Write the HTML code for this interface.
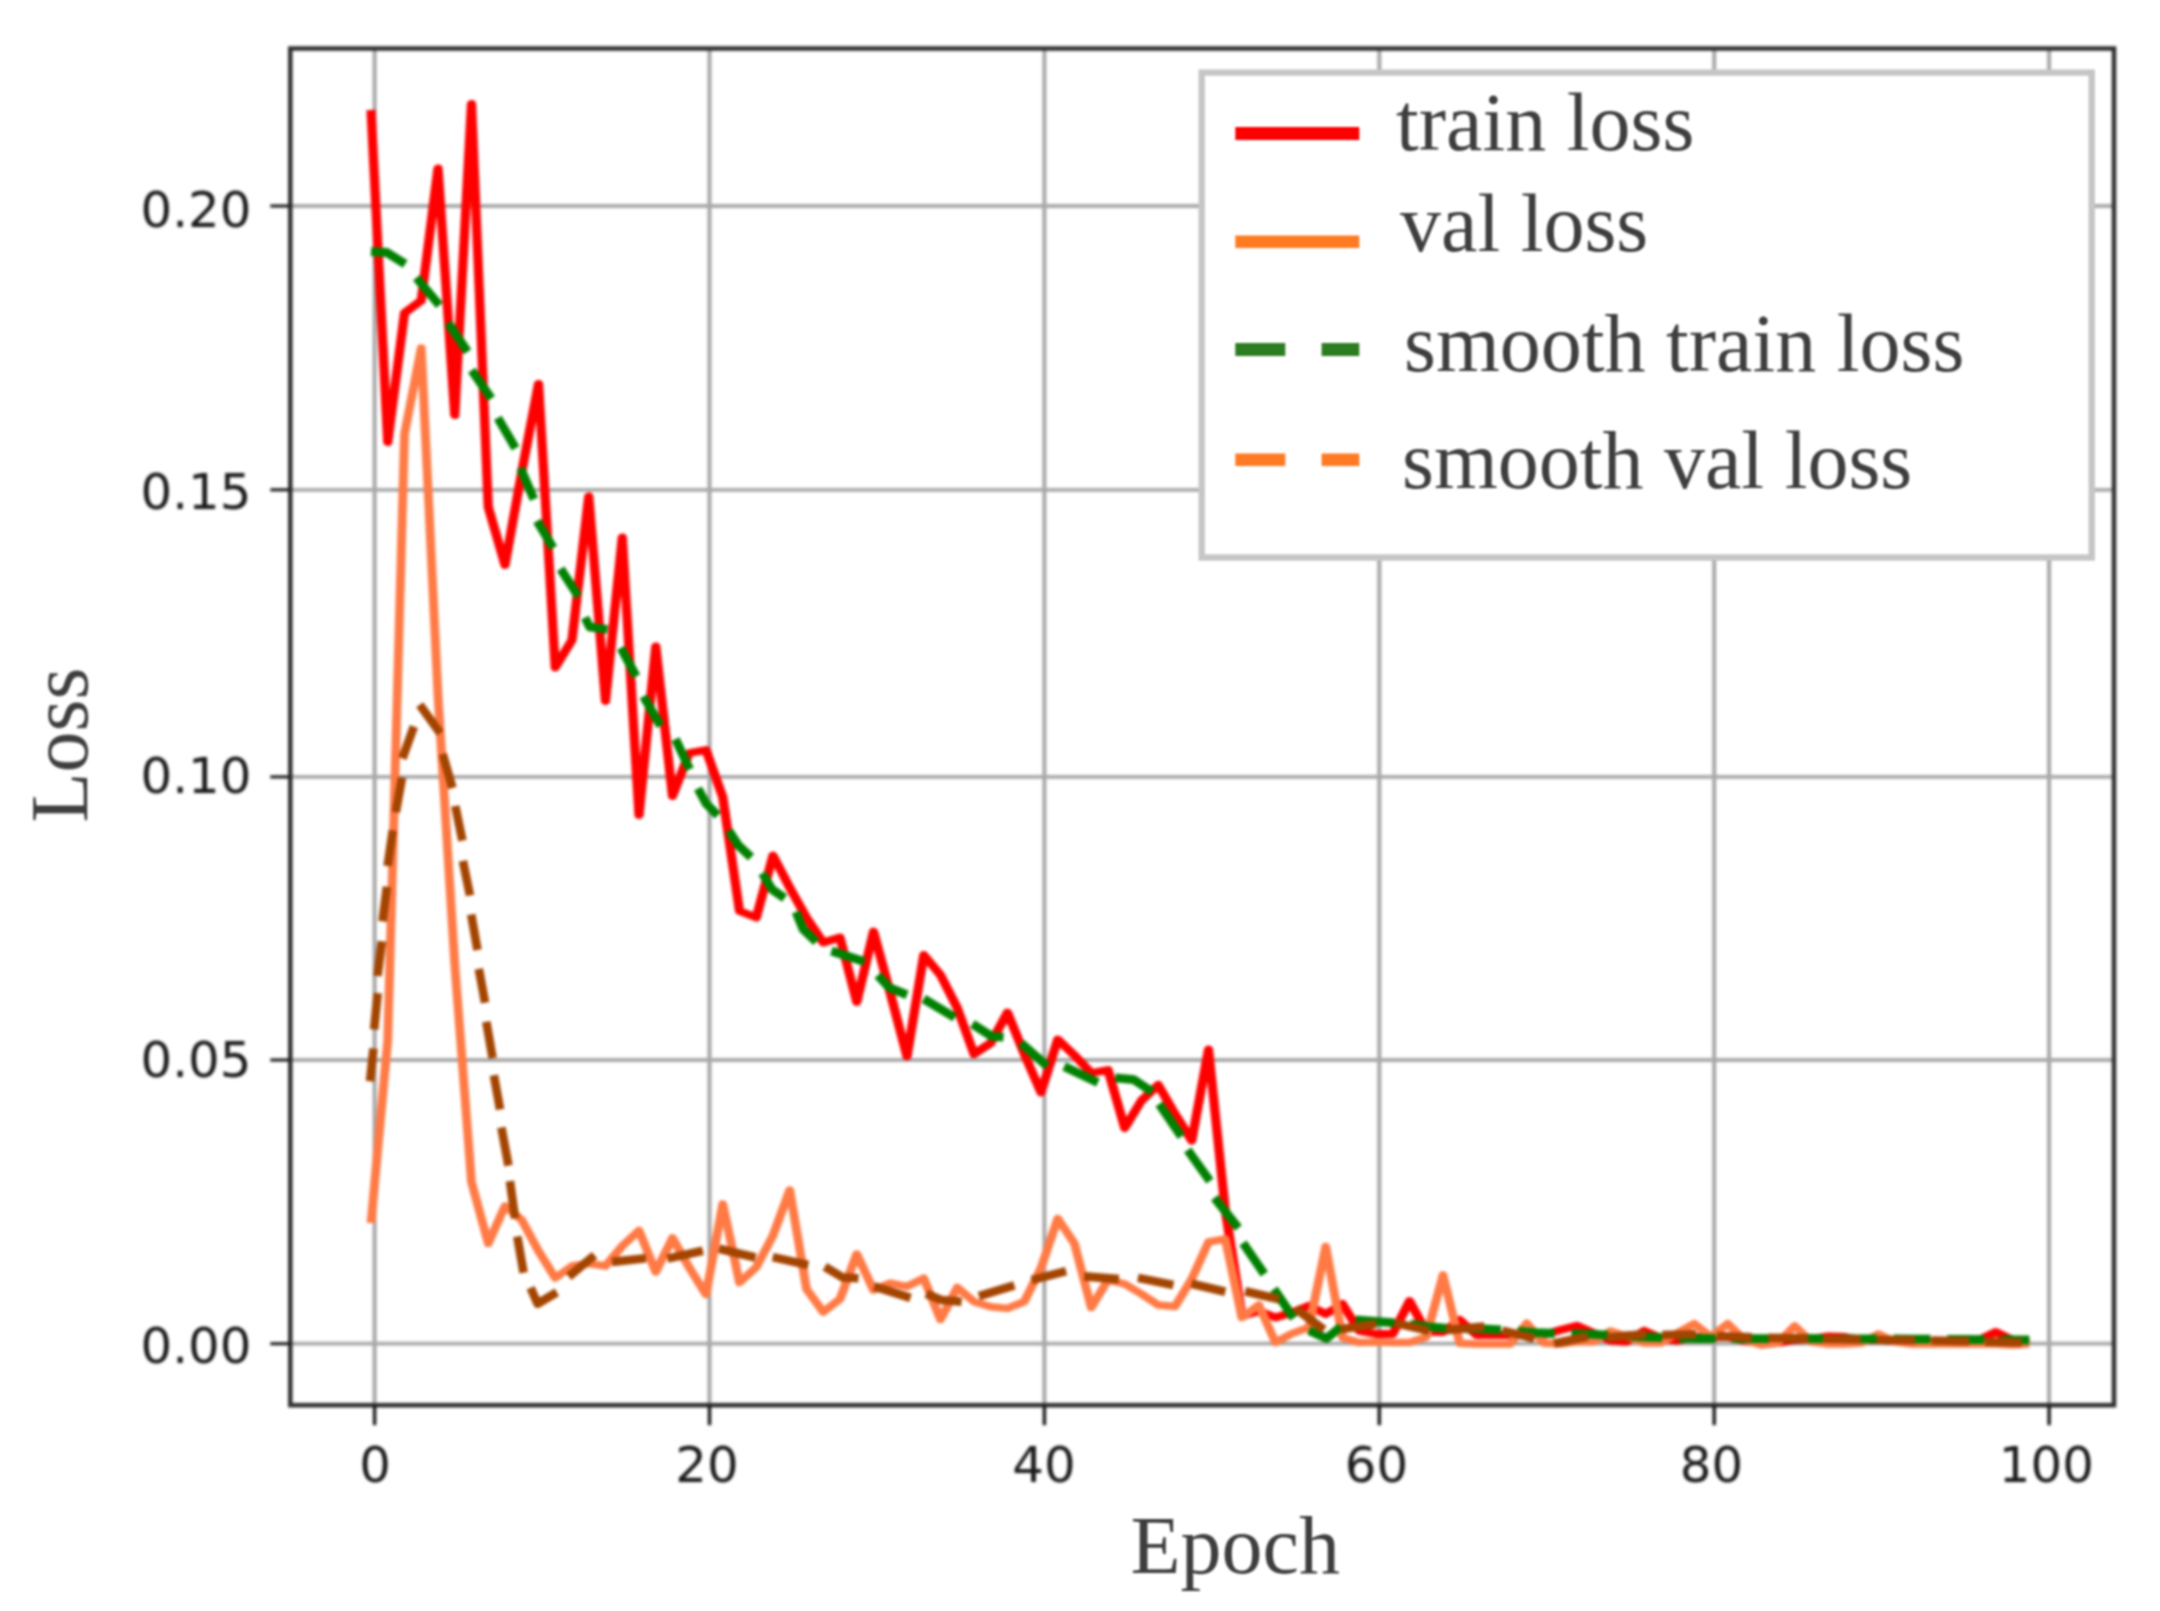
<!DOCTYPE html>
<html><head><meta charset="utf-8"><title>Loss curves</title>
<style>
html,body{margin:0;padding:0;background:#fff;width:2160px;height:1611px;overflow:hidden}
svg{display:block}
.tick{font-family:"DejaVu Sans","Liberation Sans",sans-serif;font-size:49.8px;fill:#1a1a1a}
.lab{font-family:"Liberation Serif",serif;font-size:82px;fill:#3e3e3e}
</style></head><body>
<svg width="2160" height="1611" viewBox="0 0 2160 1611">
<defs><filter id="b1" color-interpolation-filters="sRGB" filterUnits="userSpaceOnUse" x="0" y="0" width="2160" height="1611"><feGaussianBlur stdDeviation="1.65 1.4"/></filter><filter id="b2" color-interpolation-filters="sRGB" filterUnits="userSpaceOnUse" x="0" y="0" width="2160" height="1611"><feGaussianBlur stdDeviation="0.8"/></filter></defs>
<rect x="0" y="0" width="2160" height="1611" fill="#ffffff"/>
<g filter="url(#b1)">

<g fill="none">
<line x1="374.6" y1="48.5" x2="374.6" y2="1405.2" stroke="#a6a6a6" stroke-width="4"/>
<line x1="709.5" y1="48.5" x2="709.5" y2="1405.2" stroke="#a6a6a6" stroke-width="4"/>
<line x1="1044.4" y1="48.5" x2="1044.4" y2="1405.2" stroke="#a6a6a6" stroke-width="4"/>
<line x1="1379.3" y1="48.5" x2="1379.3" y2="1405.2" stroke="#a6a6a6" stroke-width="4"/>
<line x1="1714.2" y1="48.5" x2="1714.2" y2="1405.2" stroke="#a6a6a6" stroke-width="4"/>
<line x1="2049.1" y1="48.5" x2="2049.1" y2="1405.2" stroke="#a6a6a6" stroke-width="4"/>
<line x1="290.3" y1="1343.7" x2="2114.0" y2="1343.7" stroke="#a9a9a9" stroke-width="3.8"/>
<line x1="290.3" y1="1060.0" x2="2114.0" y2="1060.0" stroke="#a9a9a9" stroke-width="3.8"/>
<line x1="290.3" y1="776.9" x2="2114.0" y2="776.9" stroke="#a9a9a9" stroke-width="3.8"/>
<line x1="290.3" y1="489.8" x2="2114.0" y2="489.8" stroke="#a9a9a9" stroke-width="3.8"/>
<line x1="290.3" y1="206.0" x2="2114.0" y2="206.0" stroke="#a9a9a9" stroke-width="3.8"/>
</g>
<g fill="none" stroke-linejoin="round" stroke-linecap="butt">
<polyline transform="scale(1.17,1)" stroke="#ff0000" stroke-width="7.9" points="317.094,110.0 331.410,442.0 345.726,313.0 360.043,300.5 374.359,168.5 388.675,415.0 402.991,104.0 417.308,507.0 431.624,565.0 445.940,472.0 460.256,384.0 474.573,667.5 488.889,640.0 503.205,496.5 517.521,701.0 531.838,537.5 546.154,815.0 560.470,646.5 574.786,796.0 589.103,753.0 603.419,750.0 617.735,797.0 632.051,911.0 646.368,917.5 660.684,855.5 675.000,887.6 689.316,917.8 703.632,942.5 717.949,937.5 732.265,1002.0 746.581,931.5 760.897,993.0 775.214,1056.5 789.530,955.0 803.846,975.0 818.162,1007.8 832.479,1054.0 846.795,1043.0 861.111,1012.5 875.427,1053.9 889.744,1092.5 904.060,1039.5 918.376,1055.3 932.692,1073.0 947.009,1070.0 961.325,1128.0 975.641,1100.5 989.957,1085.0 1004.274,1114.0 1018.590,1140.5 1032.906,1049.5 1047.222,1210.0 1061.538,1316.0 1075.855,1311.0 1090.171,1317.5 1104.487,1312.5 1118.803,1305.7 1133.120,1314.0 1147.436,1304.0 1161.752,1331.0 1176.068,1334.0 1190.385,1334.0 1204.701,1301.0 1219.017,1331.7 1233.333,1332.0 1247.650,1320.0 1261.966,1335.0 1276.282,1335.0 1290.598,1335.0 1304.915,1335.0 1319.231,1335.0 1333.547,1330.0 1347.863,1325.8 1362.179,1333.0 1376.496,1340.8 1390.812,1341.7 1405.128,1330.8 1419.444,1338.0 1433.761,1340.8 1448.077,1337.0 1462.393,1337.0 1476.709,1337.0 1491.026,1341.0 1505.342,1343.0 1519.658,1343.0 1533.974,1340.0 1548.291,1339.0 1562.607,1336.5 1576.923,1337.0 1591.239,1340.0 1605.556,1340.0 1619.872,1341.0 1634.188,1342.0 1648.504,1342.0 1662.821,1342.0 1677.137,1341.0 1691.453,1340.0 1705.769,1332.0 1720.085,1340.0 1734.402,1342.0"/>
<polyline transform="scale(1.17,1)" stroke="#ff7a45" stroke-width="7.5" points="317.094,1223.0 331.410,1040.0 345.726,434.0 360.043,348.0 374.359,696.0 388.675,964.0 402.991,1182.0 417.308,1243.5 431.624,1206.0 445.940,1220.0 460.256,1251.0 474.573,1278.0 488.889,1266.0 503.205,1263.5 517.521,1266.0 531.838,1246.0 546.154,1230.5 560.470,1272.0 574.786,1238.0 589.103,1267.6 603.419,1294.5 617.735,1204.0 632.051,1282.5 646.368,1267.3 660.684,1235.5 675.000,1190.0 689.316,1289.0 703.632,1312.0 717.949,1299.0 732.265,1254.0 746.581,1290.0 760.897,1283.2 775.214,1286.6 789.530,1278.2 803.846,1319.5 818.162,1287.5 832.479,1301.7 846.795,1306.7 861.111,1308.4 875.427,1301.7 889.744,1268.0 904.060,1218.5 918.376,1243.7 932.692,1307.5 947.009,1279.8 961.325,1284.0 975.641,1294.0 989.957,1305.0 1004.274,1306.6 1018.590,1279.0 1032.906,1242.0 1047.222,1239.0 1061.538,1317.5 1075.855,1305.0 1090.171,1342.5 1104.487,1333.4 1118.803,1327.5 1133.120,1246.5 1147.436,1337.6 1161.752,1342.6 1176.068,1342.0 1190.385,1342.5 1204.701,1342.5 1219.017,1337.0 1233.333,1275.0 1247.650,1343.3 1261.966,1344.0 1276.282,1344.0 1290.598,1344.0 1304.915,1323.3 1319.231,1343.0 1333.547,1344.0 1347.863,1341.7 1362.179,1341.7 1376.496,1331.0 1390.812,1336.7 1405.128,1343.0 1419.444,1343.0 1433.761,1333.0 1448.077,1323.7 1462.393,1336.7 1476.709,1323.7 1491.026,1340.0 1505.342,1345.0 1519.658,1343.0 1533.974,1326.0 1548.291,1342.0 1562.607,1344.0 1576.923,1344.0 1591.239,1343.0 1605.556,1334.0 1619.872,1342.0 1634.188,1344.0 1648.504,1344.0 1662.821,1344.0 1677.137,1344.0 1691.453,1344.0 1705.769,1344.0 1720.085,1345.0 1734.402,1344.0"/>
<path stroke="#008000" stroke-width="8.8" d="M371.0,251.7 L386.8,252.5 L405.2,264.0 M416.4,277.7 L439.4,305.3 M448.2,323.0 L467.6,351.8 M471.7,370.2 L491.3,398.6 M497.8,417.9 L515.5,448.2 M520.5,468.1 L533.9,499.3 M537.1,520.9 L553.2,547.9 M560.6,568.8 L578.4,596.3 M585.0,617.6 L589.6,626.9 L607.4,629.5 M620.9,647.8 L636.2,676.4 M643.5,696.4 L660.5,725.8 M675.5,739.1 L689.7,769.4 M698.0,788.5 L706.0,803.5 L717.7,815.3 M728.8,830.6 L738.5,845.5 L751.0,857.3 M762.3,873.3 L772.0,889.3 L784.6,898.2 M796.0,911.8 L803.0,929.0 L816.3,941.9 M831.4,951.0 L864.4,961.6 M877.8,975.3 L889.4,987.7 L907.0,994.8 M923.7,998.9 L954.8,1017.5 M972.4,1024.0 L991.6,1036.3 L1003.5,1037.2 M1021.0,1043.1 L1047.2,1066.1 M1064.2,1066.6 L1097.9,1082.5 M1115.3,1077.8 L1133.8,1079.6 L1152.2,1091.9 M1159.2,1103.9 L1181.4,1136.5 M1187.7,1150.0 L1209.9,1181.0 M1214.5,1197.8 L1238.4,1227.9 M1243.0,1243.0 L1264.3,1273.9 M1274.0,1289.0 L1293.7,1318.3 M1308.9,1330.5 L1326.6,1338.4 L1340.8,1326.9 M1355.7,1319.9 L1394.6,1322.8 M1410.3,1324.1 L1428.8,1326.8 L1447.3,1328.4 M1464.0,1328.7 L1482.5,1329.0 L1501.0,1329.9 M1517.7,1331.2 L1536.2,1332.6 L1554.7,1333.5 M1571.4,1333.8 L1589.9,1334.2 L1608.4,1335.1 M1625.1,1336.0 L1643.6,1337.0 L1662.1,1337.7 M1678.8,1338.1 L1697.3,1338.5 L1715.8,1338.7 M1732.5,1338.6 L1751.0,1338.6 L1769.5,1338.6 M1786.2,1338.5 L1804.7,1338.5 L1823.2,1338.6 M1839.9,1338.7 L1858.4,1338.8 L1876.9,1338.9 M1893.6,1339.0 L1912.1,1339.1 L1930.6,1339.2 M1947.3,1339.4 L1965.8,1339.5 L1984.3,1339.7 M2001.0,1339.8 L2015.1,1339.9 L2029.2,1340.0"/>
<path stroke="#a34400" stroke-width="8.6" d="M370.0,1081.3 L373.5,1048.5 M374.1,1029.5 L377.7,993.2 M377.5,976.0 L381.9,941.2 M382.5,921.4 L386.9,886.8 M387.6,866.0 L392.8,830.3 M395.8,812.2 L402.1,777.5 M402.4,758.5 L413.9,726.5 M419.7,704.8 L440.2,733.2 M442.7,754.0 L452.5,788.0 M455.3,806.0 L462.4,840.7 M462.9,860.8 L470.0,895.5 M471.2,914.4 L477.5,949.9 M478.8,968.9 L485.1,1002.7 M486.3,1021.7 L492.6,1058.0 M493.9,1075.3 L500.1,1109.4 M501.4,1127.5 L508.5,1165.6 M509.9,1181.2 L515.1,1218.4 M517.3,1236.5 L523.6,1272.8 M530.6,1287.7 L537.6,1303.7 L556.9,1292.3 M568.7,1276.6 L594.6,1255.3 M612.0,1261.9 L646.0,1258.3 M667.4,1258.6 L702.9,1250.7 M719.1,1248.7 L755.5,1257.5 M772.7,1257.1 L808.3,1265.0 M824.8,1266.8 L842.5,1277.4 L858.5,1278.3 M874.1,1286.3 L910.5,1297.8 M926.2,1293.7 L941.3,1300.0 L961.6,1301.8 M978.9,1296.1 L1014.4,1285.4 M1031.7,1280.2 L1066.1,1271.1 M1084.2,1276.4 L1118.9,1279.1 M1137.9,1277.9 L1173.4,1285.0 M1191.5,1283.8 L1225.3,1291.7 M1245.1,1291.3 L1279.0,1299.2 M1295.6,1308.5 L1324.0,1329.8 M1340.7,1329.3 L1376.2,1324.1 M1395.7,1323.1 L1429.0,1330.7 M1446.0,1330.1 L1484.3,1326.6 M1502.3,1330.6 L1534.3,1338.5 M1554.0,1343.5 L1587.7,1336.5 M1607.0,1337.6 L1646.0,1334.1 M1662.3,1335.0 L1696.0,1334.2 M1716.7,1336.0 L1751.7,1337.4 M1768.3,1337.8 L1808.3,1338.7 M1823.3,1338.9 L1860.8,1339.5 M1876.7,1339.7 L1915.0,1340.3 M1931.7,1340.5 L1969.2,1341.3 M1985.0,1341.8 L2021.7,1342.5"/>
</g>
<rect x="290.3" y="48.5" width="1823.7" height="1356.7" fill="none" stroke="#2e2e2e" stroke-width="4.5"/>
<g stroke="#1c1c1c" stroke-width="3.5">
<line x1="374.6" y1="1405.2" x2="374.6" y2="1425.2"/>
<line x1="709.5" y1="1405.2" x2="709.5" y2="1425.2"/>
<line x1="1044.4" y1="1405.2" x2="1044.4" y2="1425.2"/>
<line x1="1379.3" y1="1405.2" x2="1379.3" y2="1425.2"/>
<line x1="1714.2" y1="1405.2" x2="1714.2" y2="1425.2"/>
<line x1="2049.1" y1="1405.2" x2="2049.1" y2="1425.2"/>
<line x1="270.3" y1="1343.7" x2="290.3" y2="1343.7" stroke-width="3.1"/>
<line x1="270.3" y1="1060.0" x2="290.3" y2="1060.0" stroke-width="3.1"/>
<line x1="270.3" y1="776.9" x2="290.3" y2="776.9" stroke-width="3.1"/>
<line x1="270.3" y1="489.8" x2="290.3" y2="489.8" stroke-width="3.1"/>
<line x1="270.3" y1="206.0" x2="290.3" y2="206.0" stroke-width="3.1"/>
</g>
<g class="tick" text-anchor="middle">
<text x="375.1" y="1482">0</text>
<text x="707.0" y="1482">20</text>
<text x="1043.9" y="1482">40</text>
<text x="1376.4" y="1482">60</text>
<text x="1711.4" y="1482">80</text>
<text x="2046.3" y="1482">100</text>
</g><g class="tick" text-anchor="end">
<text x="251.5" y="1363.4">0.00</text>
<text x="251.5" y="1077.0">0.05</text>
<text x="251.5" y="793.4">0.10</text>
<text x="251.5" y="509.3">0.15</text>
<text x="251.5" y="227.0">0.20</text>
</g>
</g><g filter="url(#b2)">
<text class="lab" x="1130.5" y="1573">Epoch</text>
<text class="lab" transform="translate(87.2,822.5) rotate(-90)">Loss</text>
<rect x="1201.7" y="72.6" width="890.0" height="484.9" fill="#ffffff" stroke="#c6c6c6" stroke-width="6.4"/>
<line x1="1235.3" y1="133.6" x2="1359.3" y2="133.6" stroke="#ff0000" stroke-width="13"/>
<line x1="1235.3" y1="241.8" x2="1359.3" y2="241.8" stroke="#ff7b22" stroke-width="12.5"/>
<path d="M1235.3,349.4H1285.3M1321.6,349.4H1359.3" stroke="#2c7d22" stroke-width="13" fill="none"/>
<path d="M1235.3,459.7H1285.3M1321.6,459.7H1359.3" stroke="#ff7a22" stroke-width="12.6" fill="none"/>
<text class="lab" x="1396" y="150.4">train loss</text>
<text class="lab" x="1400" y="251">val loss</text>
<text class="lab" x="1404" y="371.2">smooth train loss</text>
<text class="lab" x="1402" y="487.9">smooth val loss</text>
</g></svg></body></html>
